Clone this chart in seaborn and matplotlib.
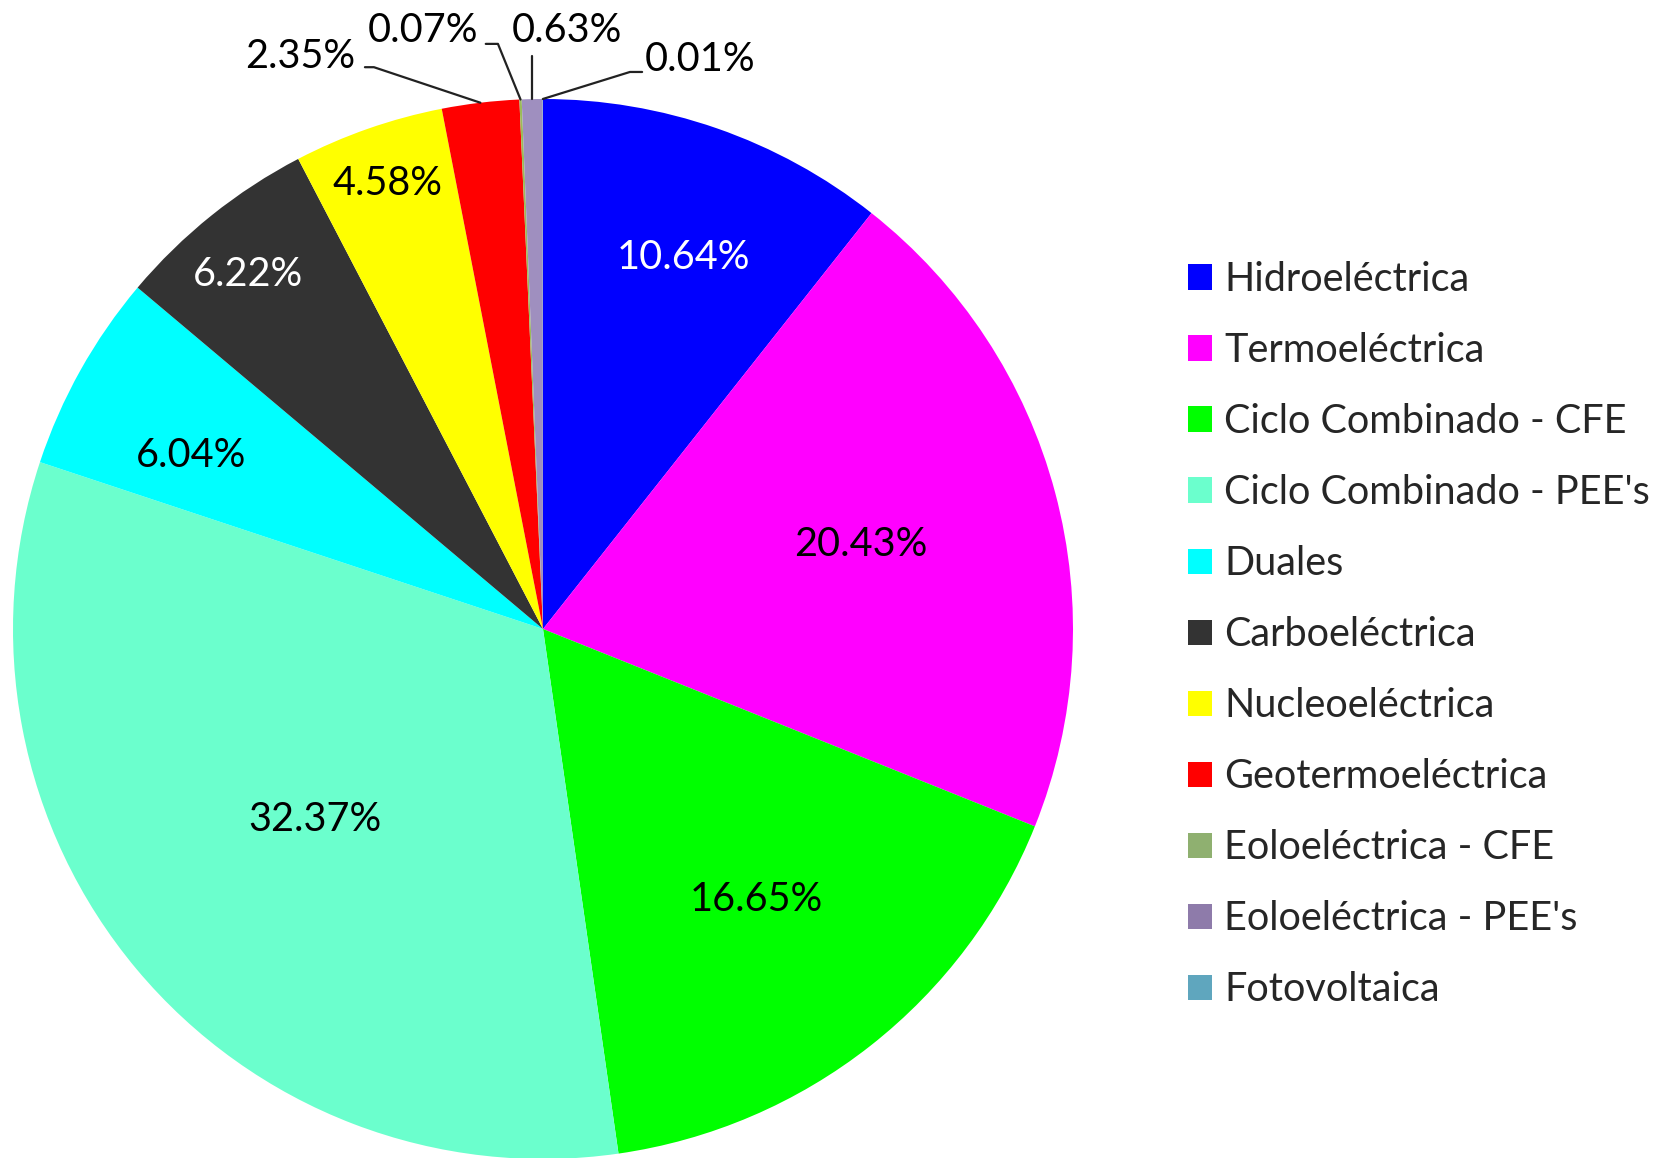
import numpy as np
import matplotlib
matplotlib.use("Agg")
import matplotlib.pyplot as plt
from matplotlib.patches import Patch
import seaborn as sns

# ======= DATA =======
categories = ["Hidroeléctrica", "Termoeléctrica", "Ciclo Combinado - CFE",
              "Ciclo Combinado - PEE's", "Duales", "Carboeléctrica",
              "Nucleoeléctrica", "Geotermoeléctrica", "Eoloeléctrica - CFE",
              "Eoloeléctrica - PEE's", "Fotovoltaica"]
shares = [10.64, 20.43, 16.65, 32.37, 6.04, 6.22, 4.58, 2.35, 0.07, 0.63, 0.01]

# ======= STYLE =======
slice_colors = ["#0000FF", "#FF00FF", "#00FF00", "#6BFFCD", "#00FFFF", "#333333",
                "#FFFF00", "#FF0000", "#9BBB59", "#9F8FBF", "#5FA6BE"]
legend_colors = slice_colors[:8] + ["#8FB070", "#8E7BAA", "#5FA6BE"]
label_colors = ["white", "black", "black", "black", "black", "white", "black"]
inner_radius = [0.75, 0.62, 0.65, 0.56, 0.74, 0.87, 0.89]
inner_shift = [-1.5, 0, 0, 0, 3, 1, 0]   # extra degrees for a few labels
# small slices: label centre, elbow of the leader line, end of the stub near the text
outer_labels = {
    7: ((-0.458, 1.081), (-0.319, 1.060), (-0.336, 1.060)),
    8: ((-0.226, 1.130), (-0.085, 1.104), (-0.108, 1.104)),
    9: ((0.045, 1.130), None, None),
    10: ((0.296, 1.074), (0.164, 1.051), (0.187, 1.051)),
}

sns.set_theme(style="white")
plt.rcParams["font.family"] = ["Lato", "DejaVu Sans"]
FS = 28.5

W, H = 1663, 1158
fig = plt.figure(figsize=(W / 100, H / 100), dpi=100)
cx, cy, r = 543, 629, 530
ax = fig.add_axes([(cx - r) / W, (H - cy - r) / H, 2 * r / W, 2 * r / H])

wedges, _ = ax.pie(shares, colors=slice_colors, startangle=90, counterclock=False,
                   radius=1, wedgeprops=dict(linewidth=0))
ax.set_xlim(-1, 1)
ax.set_ylim(-1, 1)
ax.set_axis_off()

# mid angle of every slice
bounds = np.cumsum([0] + shares) / sum(shares)
mids = np.deg2rad(90 - 360 * (bounds[:-1] + bounds[1:]) / 2)

for i, rad in enumerate(inner_radius):
    a = mids[i] + np.deg2rad(inner_shift[i])
    ax.text(rad * np.cos(a), rad * np.sin(a), f"{shares[i]:.2f}%",
            ha="center", va="center", fontsize=FS, color=label_colors[i])

for i, (txt_xy, elbow, stub) in outer_labels.items():
    px, py = np.cos(mids[i]), np.sin(mids[i])
    if elbow is None:
        xs, ys = [px, px], [py, 1.081]
    else:
        xs, ys = [px, elbow[0], stub[0]], [py, elbow[1], stub[1]]
    ax.plot(xs, ys, color="#222222", lw=1.6, clip_on=False)
    ax.text(txt_xy[0], txt_xy[1], f"{shares[i]:.2f}%", ha="center", va="center",
            fontsize=FS, color="black")

handles = [Patch(facecolor=c, edgecolor="none") for c in legend_colors]
fig.legend(handles, categories, loc="upper left",
           bbox_to_anchor=(1188 / W, 1 - 261 / H), frameon=False,
           fontsize=FS, borderpad=0, borderaxespad=0,
           handlelength=0.61, handleheight=0.61, handletextpad=0.3,
           labelspacing=0.86)

fig.savefig("out.png", dpi=100)
